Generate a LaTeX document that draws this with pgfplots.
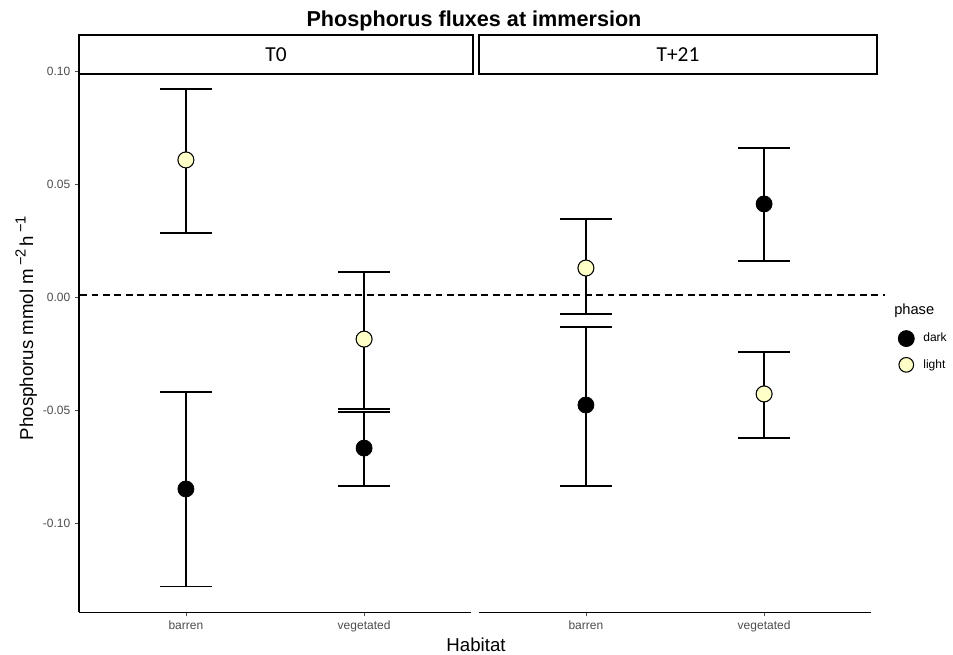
\documentclass[border=0pt]{standalone}
\usepackage{pgfplots}
\pgfplotsset{compat=1.18}
\usepackage{fontspec}
\setmainfont{Liberation Sans}
\newfontfamily\carlito{Carlito}
\definecolor{lightpt}{RGB}{255,255,200}
\definecolor{tickgray}{RGB}{77,77,77}

\pgfplotstableread{
x y ep em
1 -0.0849 0.0430 0.0433
2 -0.0668 0.0160 0.0168
}\darkA
\pgfplotstableread{
x y ep em
1 0.0609 0.0314 0.0324
2 -0.0185 0.0297 0.0310
}\lightA
\pgfplotstableread{
x y ep em
1 -0.0477 0.0346 0.0359
2 0.0414 0.0248 0.0253
}\darkB
\pgfplotstableread{
x y ep em
1 0.0130 0.0217 0.0204
2 -0.0428 0.0186 0.0195
}\lightB

\newcommand{\upsc}[1]{\raisebox{0.75ex}{\fontsize{11}{12}\selectfont #1}}

\pgfplotsset{
  panel/.style={
    scale only axis, width=294pt, height=406.3pt,
    xmin=0.4, xmax=2.6, ymin=-0.13957, ymax=0.1005,
    xtick={1,2}, xticklabels={barren,vegetated},
    tick align=outside, major tick length=3pt,
    tick style={color=tickgray, line width=0.6pt},
    ticklabel style={font=\fontsize{9}{10}\selectfont, text=tickgray},
    axis line style={-, line width=0.9pt, black},
    clip=false,
  },
  errs/.style={
    error bars/y dir=both, error bars/y explicit,
    error bars/error bar style={line width=1.1pt, black, solid},
    error bars/error mark options={line width=1.1pt, black, mark size=19.5pt, rotate=90},
  },
  darkpt/.style={only marks, mark=*, mark size=6pt, mark options={draw=black, fill=black, line width=0.6pt}},
  lightpt/.style={only marks, mark=*, mark size=6pt, mark options={draw=black, fill=lightpt, line width=0.8pt}},
}

\begin{document}
\begin{tikzpicture}
\path[use as bounding box] (0pt,0pt) rectangle (714.75pt,-490.5pt);

\begin{axis}[panel, at={(59.25pt,-459.225pt)}, anchor=south west,
  axis x line*=bottom, axis y line*=left,
  ytick={-0.10,-0.05,0,0.05,0.10},
  yticklabels={-0.10,-0.05,0.00,0.05,0.10}]
\draw[line width=1.1pt, dash pattern=on 5.2pt off 3.4pt] (axis cs:0.406,0.001) -- (axis cs:4.923,0.001);
\addplot[darkpt, errs] table[x=x, y=y, y error plus=ep, y error minus=em] {\darkA};
\addplot[lightpt, errs] table[x=x, y=y, y error plus=ep, y error minus=em] {\lightA};
\end{axis}

\begin{axis}[panel, at={(359.25pt,-459.225pt)}, anchor=south west,
  axis x line*=bottom, axis y line=none,
  legend style={draw=none, fill=none, at={(axis description cs:1.0686,0.5208)}, anchor=north west,
    inner sep=0pt, outer sep=0pt, row sep=7.5pt, column sep=6pt,
    nodes={inner sep=0.5pt}, font=\fontsize{9}{10}\selectfont},
  legend cell align=left]
\addplot[forget plot, darkpt, errs] table[x=x, y=y, y error plus=ep, y error minus=em] {\darkB};
\addplot[forget plot, lightpt, errs] table[x=x, y=y, y error plus=ep, y error minus=em] {\lightB};
\addlegendimage{legend image code/.code={\draw[black, fill=black, line width=0.6pt] (0pt,0pt) circle (6pt);}}
\addlegendentry{dark}
\addlegendimage{legend image code/.code={\draw[black, fill=lightpt, line width=0.8pt] (0pt,0pt) circle (5.5pt);}}
\addlegendentry{light}
\node[anchor=west, inner sep=0pt, font=\fontsize{11}{12}\selectfont] at (axis description cs:1.0587,0.556) {phase};
\end{axis}

% facet strips
\draw[line width=1.3pt, fill=white] ({79*0.75pt},{-35*0.75pt}) rectangle ({473*0.75pt},{-73.8*0.75pt});
\draw[line width=1.3pt, fill=white] ({479*0.75pt},{-35*0.75pt}) rectangle ({877*0.75pt},{-73.8*0.75pt});
\node[anchor=base, inner sep=0pt, font=\carlito\fontsize{16}{18}\selectfont] at ({276*0.75pt},{-61.7*0.75pt}) {T0};
\node[anchor=base, inner sep=0pt, font=\carlito\fontsize{16}{18}\selectfont] at ({678*0.75pt},{-61.7*0.75pt}) {T+21};

% titles
\node[anchor=base, inner sep=0pt, font=\fontsize{16.2}{19}\selectfont\bfseries] at ({474*0.75pt},{-26.5*0.75pt}) {Phosphorus fluxes at immersion};
\node[anchor=base, inner sep=0pt, font=\fontsize{14}{16}\selectfont] at ({476*0.75pt},{-651.7*0.75pt}) {Habitat};
\node[anchor=base, rotate=90, inner sep=0pt, font=\fontsize{14}{16}\selectfont] at ({33*0.75pt},{-328*0.75pt}) {Phosphorus mmol m\,\upsc{−2}\,h\,\upsc{−1}};
\end{tikzpicture}
\end{document}
